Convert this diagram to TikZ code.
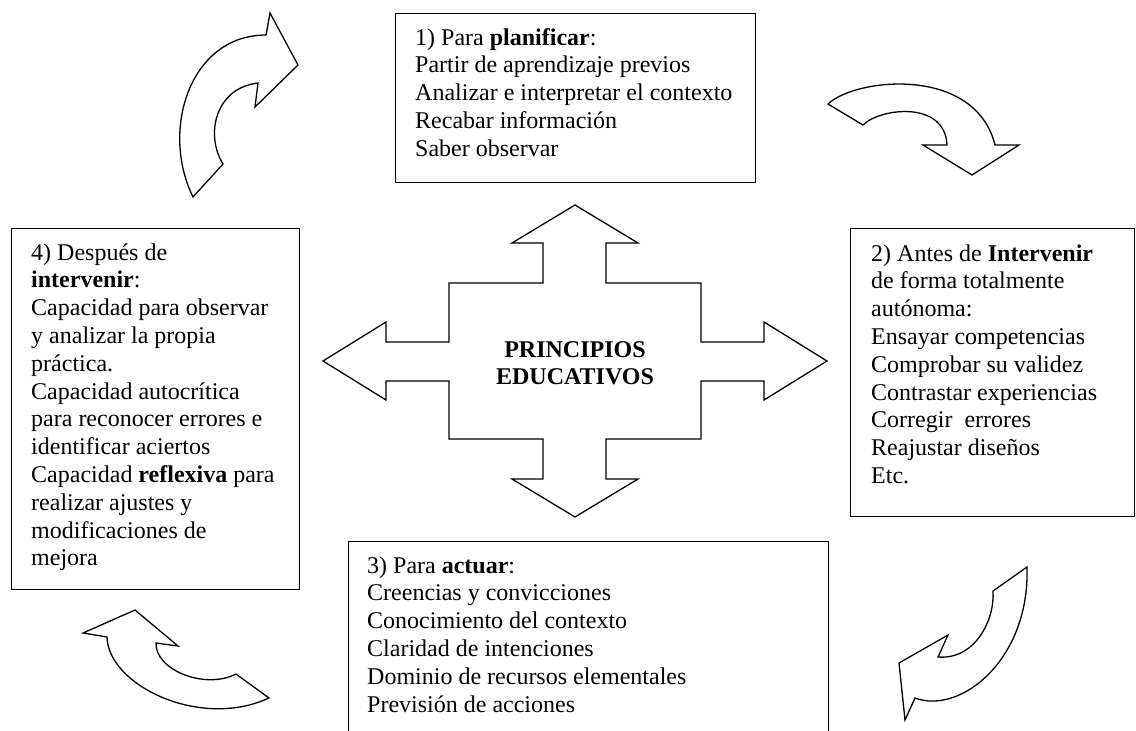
\documentclass[tikz,border=0pt]{standalone}
\usepackage{fontspec}
\setmainfont{Liberation Serif}
\begin{document}
\begin{tikzpicture}[x=1pt,y=-1pt,line join=miter]
\tikzset{
  boxline/.style={draw=black, line width=1.4pt, anchor=north west, inner sep=0pt},
  shapeline/.style={draw=black, line width=1.3pt, fill=white},
  txt/.style={anchor=base west, inner sep=0pt, font=\fontsize{24}{27.8}\selectfont}
}
\useasboundingbox (0,0) rectangle (1136,731);

% boxes
\node[boxline, minimum width=360pt, minimum height=169pt] (b1) at (395,13) {};
\node[boxline, minimum width=288pt, minimum height=361pt] (b4) at (11,228) {};
\node[boxline, minimum width=284pt, minimum height=288pt] (b2) at (850,228) {};
\node[boxline, minimum width=480pt, minimum height=220pt] (b3) at (348,541) {};

% texts
\node[txt] (t1) at (415,45) {\parbox[t]{400pt}{\raggedright
1) Para \textbf{planificar}:\\
Partir de aprendizaje previos\\
Analizar e interpretar el contexto\\
Recabar información\\
Saber observar}};

\node[txt] (t4) at (31,260) {\parbox[t]{400pt}{\raggedright
4) Después de\\
\textbf{intervenir}:\\
Capacidad para observar\\
y analizar la propia\\
práctica.\\
Capacidad autocrítica\\
para reconocer errores e\\
identificar aciertos\\
Capacidad \textbf{reflexiva} para\\
realizar ajustes y\\
modificaciones de\\
mejora}};

\node[txt] (t2) at (871,261) {\parbox[t]{400pt}{\raggedright
2) Antes de \textbf{Intervenir}\\
de forma totalmente\\
autónoma:\\
Ensayar competencias\\
Comprobar su validez\\
Contrastar experiencias\\
Corregir\ \ errores\\
Reajustar diseños\\
Etc.}};

\node[txt] (t3) at (367,573) {\parbox[t]{400pt}{\raggedright
3) Para \textbf{actuar}:\\
Creencias y convicciones\\
Conocimiento del contexto\\
Claridad de intenciones\\
Dominio de recursos elementales\\
Previsión de acciones}};

% central cross arrow
\draw[shapeline] (575,205) -- (638,243) -- (606,243) -- (606,283) -- (701,283) -- (701,342)
  -- (764,342) -- (764,322) -- (827,361) -- (764,400) -- (764,381) -- (701,381) -- (701,439)
  -- (606,439) -- (606,479) -- (638,479) -- (575,517) -- (512,479) -- (543,479) -- (543,439)
  -- (449,439) -- (449,381) -- (386,381) -- (386,400) -- (323,361) -- (386,322) -- (386,342)
  -- (449,342) -- (449,283) -- (543,283) -- (543,243) -- (512,243) -- cycle;
\node[anchor=base, inner sep=0pt, font=\fontsize{24}{27}\selectfont\bfseries] (c) at (575,357)
  {\parbox[t]{220pt}{\centering PRINCIPIOS\\EDUCATIVOS}};

% curved arrows
\draw[shapeline] (193,197) -- (223,164) .. controls (205,135) and (215,88) .. (258,83)
  -- (255,107) -- (298,65) -- (270,13) -- (266,35)
  .. controls (190,35) and (160,130) .. (193,197) -- cycle;
\draw[shapeline] (828,104) -- (863,125) .. controls (880,108) and (945,100) .. (947,145)
  -- (923,145) -- (972,175) -- (1019,145) -- (995,145)
  .. controls (975,65) and (855,78) .. (828,104) -- cycle;
\draw[shapeline] (1027,567) -- (993,591) .. controls (995,620) and (975,660) .. (938,657)
  -- (948,635) -- (899,663) -- (905,720) -- (915,698)
  .. controls (960,715) and (1030,660) .. (1027,567) -- cycle;
\draw[shapeline] (269,698) -- (236,674) .. controls (205,690) and (155,670) .. (156,643)
  -- (178,646) -- (135,610) -- (83,633) -- (107,637)
  .. controls (108,685) and (200,730) .. (269,698) -- cycle;
\end{tikzpicture}
\end{document}
